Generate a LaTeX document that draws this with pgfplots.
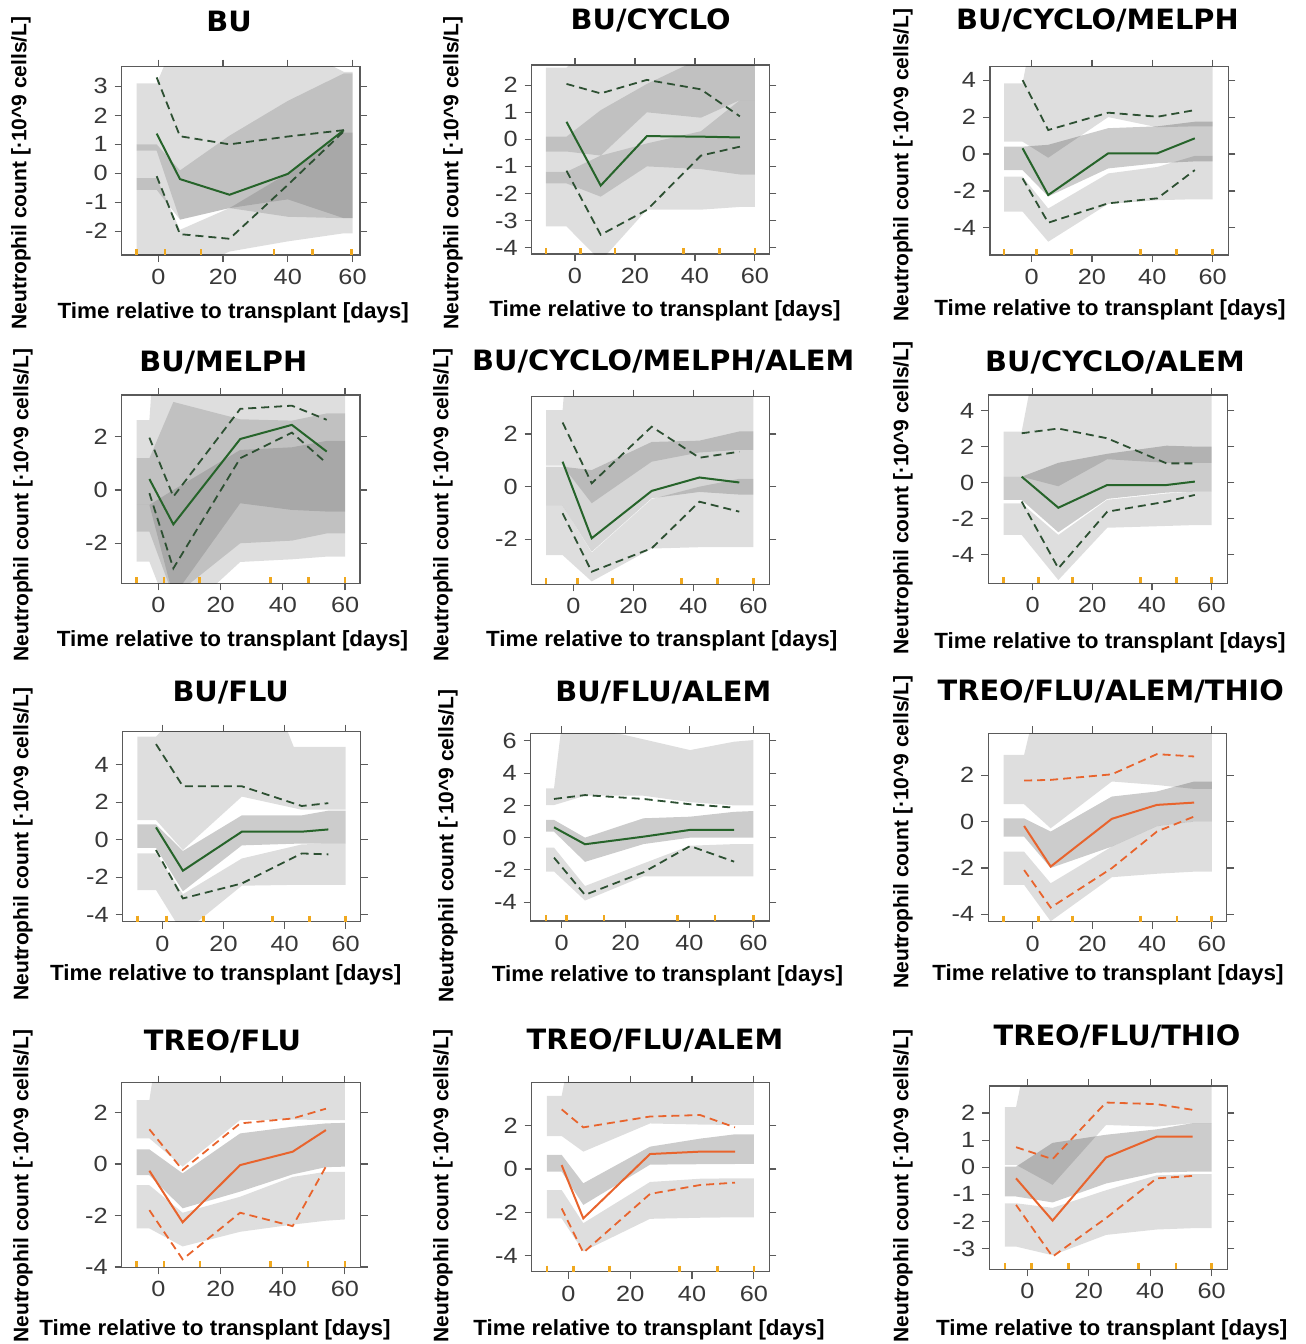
\documentclass[border=0pt]{standalone}
\usepackage{fontspec}
\setmainfont{Liberation Sans}
\newfontfamily\tickfont{Liberation Sans}[FakeStretch=1.15]
\newfontfamily\labfont{Liberation Sans}[FakeStretch=1.02]
\newfontfamily\titfont{DejaVu Sans}[FakeStretch=1.03]
\usepackage{pgfplots}
\pgfplotsset{compat=1.18}
\definecolor{obsgreen}{RGB}{38,100,42}
\definecolor{dashgreen}{RGB}{45,80,50}
\definecolor{obsorange}{RGB}{232,100,45}
\definecolor{rugc}{RGB}{240,168,30}
\definecolor{framec}{RGB}{90,90,90}
\pgfplotsset{
  vpc/.style={scale only axis, anchor=south west, clip=true,
    axis line style={draw=framec, line width=0.6pt},
    every tick/.style={draw=framec, line width=0.6pt},
    tick align=outside, major tick length=3.5pt,
    xtick pos=both, ytick pos=both, xticklabel pos=left, yticklabel pos=left,
    xtick={0,20,40,60},
    /pgf/number format/assume math mode=true,
    tick label style={font=\tickfont\fontsize{11}{11}\selectfont, text=black!78},
  },
  band/.style={draw=none, fill=black, fill opacity=0.13},
  mband/.style={draw=none, fill=black, fill opacity=#1},
  mband/.default=0.2,
  obsline/.style={line width=1pt, color=#1},
  pcline/.style={line width=0.9pt, color=#1, dash pattern=on 4pt off 2.5pt},
  rug/.style={only marks, mark=|, mark size=1.5pt, mark options={draw=rugc, line width=1.3pt, yshift=1.5pt}},
}
\newcommand{\ttl}[2]{\node[font={\titfont\bfseries\fontsize{14}{16}\selectfont}, anchor=base] at #1 {#2};}
\newcommand{\xlab}[1]{\node[font={\labfont\bfseries\fontsize{11}{13}\selectfont}, anchor=base] at #1 {Time relative to transplant [days]};}
\newcommand{\ylab}[1]{\node[font={\bfseries\fontsize{10.5}{12}\selectfont}, rotate=90, anchor=center] at #1 {Neutrophil count [·10\textasciicircum 9 cells/L]};}
\begin{document}
\begin{tikzpicture}
\useasboundingbox (0,0) rectangle (653pt,-672pt);

% ---------- Panel 1: BU
\begin{axis}[vpc, at={(60.85pt,-127.5pt)}, width=119.15pt, height=94.15pt,
  xmin=-11.3, xmax=62.3, ymin=-2.82, ymax=3.68, ytick={-2,-1,0,1,2,3}]
\addplot[band] coordinates {(-6.7,3.1)(-0.5,3.1)(6.7,5)(22,5)(40,4.5)(57.3,3.5)(60,3.5)(60,-1.55)(57.3,-1.55)(40,-0.9)(22,-1.2)(6.7,-1.6)(-0.5,0.78)(-6.7,0.78)} -- cycle;
\addplot[mband=0.13] coordinates {(-6.7,1.0)(-0.5,1.0)(6.7,0.1)(22,1.3)(40,2.5)(57.3,3.45)(60,3.45)(60,-1.55)(57.3,-1.55)(40,-1.5)(22,-1.2)(6.7,-1.6)(-0.5,-0.57)(-6.7,-0.57)} -- cycle;
\addplot[band] coordinates {(-6.7,-0.17)(-0.5,-0.17)(6.7,-1.95)(22,-1.2)(40,0.0)(57.3,1.4)(60,1.4)(60,-2.07)(57.3,-2.07)(40,-2.35)(22,-2.7)(6.7,-3.5)(-0.5,-3.5)(-6.7,-3.5)} -- cycle;
\addplot[obsline=obsgreen] coordinates {(-0.5,1.37)(6.7,-0.2)(22,-0.74)(40,-0.02)(57.3,1.49)};
\addplot[pcline=dashgreen] coordinates {(-0.5,3.31)(6.7,1.28)(22,1.0)(40,1.27)(57.3,1.49)};
\addplot[pcline=dashgreen] coordinates {(-0.5,-0.1)(6.7,-2.1)(22,-2.26)(40,-0.4)(57.3,1.45)};
\addplot[rug] coordinates {(-6.7,-2.82)(2.1,-2.82)(13.2,-2.82)(35.7,-2.82)(47.6,-2.82)(59.7,-2.82)};
\end{axis}

% ---------- Panel 2: BU/CYCLO
\begin{axis}[vpc, at={(265.85pt,-127pt)}, width=118.8pt, height=94.5pt,
  xmin=-14.4, xmax=64.8, ymin=-4.24, ymax=2.75, ytick={-4,-3,-2,-1,0,1,2}]
\addplot[band] coordinates {(-9.7,2.65)(-2.8,2.65)(8.6,4)(60,4)(60,1.45)(55,1.45)(42,0.8)(24,1.0)(8.6,-0.6)(-2.8,-0.45)(-9.7,-0.45)} -- cycle;
\addplot[mband=0.13] coordinates {(-9.7,0.1)(-2.8,0.1)(8.6,1.08)(24,2.05)(42,3.0)(55,3.0)(60,3.0)(60,-1.3)(55,-1.3)(42,-1.1)(24,-1.0)(8.6,-2.12)(-2.8,-1.63)(-9.7,-1.63)} -- cycle;
\addplot[band] coordinates {(-9.7,-1.2)(-2.8,-1.2)(8.6,-0.6)(24,-0.15)(42,0.3)(55,1.45)(60,1.45)(60,-2.5)(55,-2.5)(42,-2.6)(24,-2.6)(8.6,-4.5)(-2.8,-3.22)(-9.7,-3.22)} -- cycle;
\addplot[obsline=obsgreen] coordinates {(-2.8,0.65)(8.6,-1.71)(24,0.12)(42,0.1)(55,0.07)};
\addplot[pcline=dashgreen] coordinates {(-2.8,2.05)(8.6,1.7)(24,2.2)(42,1.85)(55,0.85)};
\addplot[pcline=dashgreen] coordinates {(-2.8,-1.16)(8.6,-3.53)(24,-2.61)(42,-0.6)(55,-0.27)};
\addplot[rug] coordinates {(-9.7,-4.24)(1.9,-4.24)(13.3,-4.24)(36.1,-4.24)(48.1,-4.24)(60,-4.24)};
\end{axis}

% ---------- Panel 3: BU/CYCLO/MELPH
\begin{axis}[vpc, at={(495pt,-127.5pt)}, width=119.15pt, height=94.15pt,
  xmin=-13.8, xmax=65.2, ymin=-5.47, ymax=4.73, ytick={-4,-2,0,2,4}]
\addplot[band] coordinates {(-9.1,3.83)(-3,3.83)(-0.5,6)(60,6)(60,1.5)(54.1,1.5)(41.7,1.45)(25.4,2.0)(5.5,-0.2)(-3,0.67)(-9.1,0.67)} -- cycle;
\addplot[mband] coordinates {(-9.1,0.4)(-3,0.4)(5.5,0.5)(25.4,1.4)(41.7,1.5)(54.1,1.75)(60,1.75)(60,-0.4)(54.1,-0.4)(41.7,-0.5)(25.4,-0.78)(5.5,-2.3)(-3,-0.87)(-9.1,-0.87)} -- cycle;
\addplot[band] coordinates {(-9.1,-1.23)(-3,-1.23)(5.5,-2.95)(25.4,-1.05)(41.7,-0.7)(54.1,-0.1)(60,-0.1)(60,-2.45)(54.1,-2.45)(41.7,-2.5)(25.4,-2.7)(5.5,-4.75)(-3,-3.12)(-9.1,-3.12)} -- cycle;
\addplot[obsline=obsgreen] coordinates {(-3,0.31)(5.5,-2.22)(25.4,0.04)(41.7,0.04)(54.1,0.85)};
\addplot[pcline=dashgreen] coordinates {(-3,4.0)(5.5,1.3)(25.4,2.24)(41.7,2.02)(54.1,2.38)};
\addplot[pcline=dashgreen] coordinates {(-3,-1.32)(5.5,-3.72)(25.4,-2.67)(41.7,-2.4)(54.1,-0.87)};
\addplot[rug] coordinates {(-9.1,-5.47)(1.7,-5.47)(13.3,-5.47)(36.1,-5.47)(48.1,-5.47)(60,-5.47)};
\end{axis}

% ---------- Panel 4: BU/MELPH
\begin{axis}[vpc, at={(60.85pt,-291.65pt)}, width=119.15pt, height=94.15pt,
  xmin=-11.8, xmax=64.8, ymin=-3.5, ymax=3.56, ytick={-2,0,2}]
\addplot[band] coordinates {(-7,2.62)(-2.9,2.62)(-1.5,5)(60,5)(60,-0.81)(54.1,-0.81)(42.9,-0.75)(26.3,-0.5)(4.8,-4)(-2.9,-0.56)(-7,-0.56)} -- cycle;
\addplot[mband=0.13] coordinates {(-7,1.19)(-2.9,1.19)(4.8,3.3)(26.3,2.65)(42.9,2.6)(54.1,2.87)(60,2.87)(60,-1.63)(54.1,-1.63)(42.9,-1.9)(26.3,-2.0)(4.8,-4)(-2.9,-1.56)(-7,-1.56)} -- cycle;
\addplot[band] coordinates {(-7,-0.56)(-2.9,-0.56)(4.8,0.0)(26.3,1.5)(42.9,1.6)(54.1,1.84)(60,1.84)(60,-2.5)(54.1,-2.5)(42.9,-2.6)(26.3,-2.7)(4.8,-5)(-2.9,-2.69)(-7,-2.69)} -- cycle;
\addplot[obsline=obsgreen] coordinates {(-2.9,0.41)(4.8,-1.29)(26.3,1.91)(42.9,2.44)(54.1,1.44)};
\addplot[pcline=dashgreen] coordinates {(-2.9,1.96)(4.8,-0.25)(26.3,3.04)(42.9,3.16)(54.1,2.63)};
\addplot[pcline=dashgreen] coordinates {(-2.9,-0.12)(4.8,-2.94)(26.3,1.19)(42.9,2.15)(54.1,1.0)};
\addplot[rug] coordinates {(-7,-3.5)(1.8,-3.5)(13.2,-3.5)(36.1,-3.5)(48.2,-3.5)(60,-3.5)};
\end{axis}

% ---------- Panel 5: BU/CYCLO/MELPH/ALEM
\begin{axis}[vpc, at={(265.85pt,-292.15pt)}, width=118.8pt, height=93.8pt,
  xmin=-13.9, xmax=65.3, ymin=-3.71, ymax=3.42, ytick={-2,0,2}]
\addplot[band] coordinates {(-9.1,2.91)(-3.6,2.91)(-2.5,4.5)(60,4.5)(60,1.4)(55.3,1.4)(42,1.3)(26.1,0.95)(6.1,-0.63)(-3.6,0.8)(-9.1,0.8)} -- cycle;
\addplot[mband=0.16] coordinates {(-9.1,0.76)(-3.6,0.76)(6.1,0.63)(26.1,1.7)(42,1.75)(55.3,2.1)(60,2.1)(60,-0.3)(55.3,-0.3)(42,-0.2)(26.1,-0.44)(6.1,-2.47)(-3.6,-0.72)(-9.1,-0.72)} -- cycle;
\addplot[band] coordinates {(-9.1,-0.72)(-3.6,-0.72)(6.1,-2.5)(26.1,-0.47)(42,0.0)(55.3,0.3)(60,0.3)(60,-2.3)(55.3,-2.3)(42,-2.3)(26.1,-2.35)(6.1,-3.6)(-3.6,-2.6)(-9.1,-2.6)} -- cycle;
\addplot[obsline=obsgreen] coordinates {(-3.6,0.95)(6.1,-1.96)(26.1,-0.16)(42,0.35)(55.3,0.16)};
\addplot[pcline=dashgreen] coordinates {(-3.6,2.44)(6.1,0.13)(26.1,2.28)(42,1.1)(55.3,1.33)};
\addplot[pcline=dashgreen] coordinates {(-3.6,-1.01)(6.1,-3.23)(26.1,-2.34)(42,-0.57)(55.3,-0.95)};
\addplot[rug] coordinates {(-9.1,-3.71)(1.4,-3.71)(13.1,-3.71)(36.1,-3.71)(48,-3.71)(60,-3.71)};
\end{axis}

% ---------- Panel 6: BU/CYCLO/ALEM
\begin{axis}[vpc, at={(494.15pt,-291.65pt)}, width=119.5pt, height=94.15pt,
  xmin=-14.9, xmax=65.3, ymin=-5.58, ymax=4.86, ytick={-4,-2,0,2,4}]
\addplot[band] coordinates {(-9.8,2.83)(-3.7,2.83)(0,6)(60,6)(60,1.1)(54.4,1.1)(44.9,1.1)(25,1.3)(8.6,-0.2)(-3.7,0.33)(-9.8,0.33)} -- cycle;
\addplot[mband] coordinates {(-9.8,0.33)(-3.7,0.33)(8.6,1.1)(25,1.6)(44.9,2.05)(54.4,2.0)(60,2.0)(60,-0.5)(54.4,-0.5)(44.9,-0.55)(25,-0.9)(8.6,-2.75)(-3.7,-0.96)(-9.8,-0.96)} -- cycle;
\addplot[band] coordinates {(-9.8,-1.15)(-3.7,-1.15)(8.6,-2.9)(25,-0.95)(44.9,-0.6)(54.4,-0.5)(60,-0.5)(60,-2.35)(54.4,-2.35)(44.9,-2.4)(25,-2.5)(8.6,-5.4)(-3.7,-2.9)(-9.8,-2.9)} -- cycle;
\addplot[obsline=obsgreen] coordinates {(-3.7,0.33)(8.6,-1.39)(25,-0.13)(44.9,-0.13)(54.4,0.06)};
\addplot[pcline=dashgreen] coordinates {(-3.7,2.74)(8.6,3.0)(25,2.46)(44.9,1.07)(54.4,1.07)};
\addplot[pcline=dashgreen] coordinates {(-3.7,-1.05)(8.6,-4.75)(25,-1.61)(44.9,-1.05)(54.4,-0.68)};
\addplot[rug] coordinates {(-9.8,-5.58)(1.9,-5.58)(13.4,-5.58)(36.2,-5.58)(48.3,-5.58)(60,-5.58)};
\end{axis}

% ---------- Panel 7: BU/FLU
\begin{axis}[vpc, at={(61.35pt,-460.85pt)}, width=119pt, height=95pt,
  xmin=-13, xmax=64.9, ymin=-4.37, ymax=5.76, ytick={-4,-2,0,2,4}]
\addplot[band] coordinates {(-8.2,5.5)(-2.1,5.5)(6.7,7)(38,7)(43,4.95)(60,4.95)(60,1.6)(54.3,1.6)(45.6,1.6)(26,2.3)(6.7,-0.55)(-2.1,1.05)(-8.2,1.05)} -- cycle;
\addplot[mband] coordinates {(-8.2,0.82)(-2.1,0.82)(6.7,-0.6)(26,1.3)(45.6,1.3)(54.3,1.55)(60,1.55)(60,-0.2)(54.3,-0.2)(45.6,-0.2)(26,-0.3)(6.7,-2.75)(-2.1,-0.43)(-8.2,-0.43)} -- cycle;
\addplot[band] coordinates {(-8.2,-0.73)(-2.1,-0.73)(6.7,-2.9)(26,-1.0)(45.6,-0.25)(54.3,-0.2)(60,-0.2)(60,-2.4)(54.3,-2.4)(45.6,-2.4)(26,-2.45)(6.7,-5)(-2.1,-2.68)(-8.2,-2.68)} -- cycle;
\addplot[obsline=obsgreen] coordinates {(-2.1,0.66)(6.7,-1.65)(26,0.43)(45.6,0.43)(54.3,0.55)};
\addplot[pcline=dashgreen] coordinates {(-2.1,5.1)(6.7,2.85)(26,2.85)(45.6,1.8)(54.3,1.95)};
\addplot[pcline=dashgreen] coordinates {(-2.1,-0.55)(6.7,-3.13)(26,-2.33)(45.6,-0.73)(54.3,-0.78)};
\addplot[rug] coordinates {(-8.2,-4.37)(1.4,-4.37)(13.4,-4.37)(36.1,-4.37)(48.1,-4.37)(60,-4.37)};
\end{axis}

% ---------- Panel 8: BU/FLU/ALEM
\begin{axis}[vpc, at={(265.35pt,-460.5pt)}, width=119.3pt, height=93.85pt,
  xmin=-9.7, xmax=65, ymin=-5.17, ymax=6.47, ytick={-4,-2,0,2,4,6}]
\addplot[band] coordinates {(-4.9,3.06)(-2.4,3.06)(0,7)(19,6.4)(40.2,5.43)(54,5.95)(60,6.05)(60,2.0)(54,2.0)(40.2,2.2)(25.6,2.6)(7.3,2.6)(-2.4,2.02)(-4.9,2.02)} -- cycle;
\addplot[mband] coordinates {(-4.9,1.1)(-2.4,1.1)(7.3,0.0)(25.6,1.2)(40.2,1.3)(54,1.6)(60,1.65)(60,0.0)(54,0.0)(40.2,0.0)(25.6,-0.4)(7.3,-1.5)(-2.4,0.37)(-4.9,0.37)} -- cycle;
\addplot[band] coordinates {(-4.9,-0.62)(-2.4,-0.62)(7.3,-3.0)(25.6,-1.6)(40.2,-0.5)(54,-0.4)(60,-0.4)(60,-2.4)(54,-2.4)(40.2,-2.4)(25.6,-2.4)(7.3,-3.9)(-2.4,-2.1)(-4.9,-2.1)} -- cycle;
\addplot[obsline=obsgreen] coordinates {(-2.4,0.64)(7.3,-0.41)(25.6,0.06)(40.2,0.48)(54,0.48)};
\addplot[pcline=dashgreen] coordinates {(-2.4,2.4)(7.3,2.64)(25.6,2.4)(40.2,2.07)(54,1.86)};
\addplot[pcline=dashgreen] coordinates {(-2.4,-1.24)(7.3,-3.55)(25.6,-2.15)(40.2,-0.52)(54,-1.49)};
\addplot[rug] coordinates {(-4.9,-5.17)(1.6,-5.17)(13.3,-5.17)(36.2,-5.17)(48,-5.17)(60,-5.17)};
\end{axis}

% ---------- Panel 9: TREO/FLU/ALEM/THIO
\begin{axis}[vpc, at={(494.15pt,-460.85pt)}, width=119.2pt, height=94.2pt,
  xmin=-14.9, xmax=65, ymin=-4.32, ymax=3.81, ytick={-4,-2,0,2}]
\addplot[band] coordinates {(-9.8,2.88)(-2.9,2.88)(1,5)(60,5)(60,1.41)(54.1,1.41)(41.6,1.58)(26.5,1.73)(6,-0.29)(-2.9,0.75)(-9.8,0.75)} -- cycle;
\addplot[mband] coordinates {(-9.8,0.14)(-2.9,0.14)(6,-0.43)(26.5,1.08)(41.6,1.3)(54.1,1.73)(60,1.73)(60,0.0)(54.1,0.0)(41.6,-0.2)(26.5,-1.08)(6,-2.0)(-2.9,-0.65)(-9.8,-0.65)} -- cycle;
\addplot[band] coordinates {(-9.8,-1.3)(-2.9,-1.3)(6,-2.66)(26.5,-1.08)(41.6,-0.2)(54.1,0.0)(60,0.0)(60,-2.16)(54.1,-2.16)(41.6,-2.25)(26.5,-2.4)(6,-4.3)(-2.9,-2.73)(-9.8,-2.73)} -- cycle;
\addplot[obsline=obsorange] coordinates {(-2.9,-0.19)(6,-1.94)(26.5,0.12)(41.6,0.72)(54.1,0.82)};
\addplot[pcline=obsorange] coordinates {(-2.9,1.77)(6,1.8)(26.5,2.04)(41.6,2.91)(54.1,2.81)};
\addplot[pcline=obsorange] coordinates {(-2.9,-2.09)(6,-3.71)(26.5,-2.01)(41.6,-0.43)(54.1,0.22)};
\addplot[rug] coordinates {(-9.8,-4.32)(1.9,-4.32)(13.4,-4.32)(36.2,-4.32)(48.3,-4.32)(60,-4.32)};
\end{axis}

% ---------- Panel 10: TREO/FLU
\begin{axis}[vpc, at={(60.85pt,-633.65pt)}, width=119.5pt, height=92.3pt,
  xmin=-11.8, xmax=65.1, ymin=-4.01, ymax=3.16, ytick={-4,-2,0,2}]
\addplot[band] coordinates {(-7,2.48)(-2.9,2.48)(-1,4)(60,4)(60,1.71)(53.9,1.71)(43.2,1.73)(26.3,1.71)(7.8,-0.1)(-2.9,1.0)(-7,1.0)} -- cycle;
\addplot[mband] coordinates {(-7,0.57)(-2.9,0.57)(7.8,-0.36)(26.3,1.19)(43.2,1.45)(53.9,1.58)(60,1.6)(60,-0.1)(53.9,-0.12)(43.2,-0.4)(26.3,-1.07)(7.8,-1.72)(-2.9,-0.43)(-7,-0.43)} -- cycle;
\addplot[band] coordinates {(-7,-0.82)(-2.9,-0.82)(7.8,-1.89)(26.3,-1.27)(43.2,-0.5)(53.9,-0.3)(60,-0.3)(60,-2.15)(53.9,-2.2)(43.2,-2.35)(26.3,-2.63)(7.8,-3.2)(-2.9,-2.5)(-7,-2.5)} -- cycle;
\addplot[obsline=obsorange] coordinates {(-2.9,-0.26)(7.8,-2.26)(26.3,-0.04)(43.2,0.48)(53.9,1.32)};
\addplot[pcline=obsorange] coordinates {(-2.9,1.35)(7.8,-0.23)(26.3,1.58)(43.2,1.77)(53.9,2.15)};
\addplot[pcline=obsorange] coordinates {(-2.9,-1.79)(7.8,-3.7)(26.3,-1.89)(43.2,-2.41)(53.9,-0.1)};
\addplot[rug] coordinates {(-7,-4.01)(1.8,-4.01)(13.4,-4.01)(36.1,-4.01)(48.2,-4.01)(60,-4.01)};
\end{axis}

% ---------- Panel 11: TREO/FLU/ALEM
\begin{axis}[vpc, at={(265.85pt,-635.85pt)}, width=118.8pt, height=94.5pt,
  xmin=-11.9, xmax=65, ymin=-4.74, ymax=3.98, ytick={-4,-2,0,2}]
\addplot[band] coordinates {(-7,3.37)(-2.2,3.37)(0,5)(60,5)(60,2.03)(53.9,2.03)(42.6,2.05)(26.4,2.1)(4.8,0.8)(-2.2,1.52)(-7,1.52)} -- cycle;
\addplot[mband] coordinates {(-7,0.65)(-2.2,0.65)(4.8,-0.66)(26.4,1.03)(42.6,1.4)(53.9,1.6)(60,1.6)(60,0.23)(53.9,0.23)(42.6,0.22)(26.4,0.2)(4.8,-1.66)(-2.2,-0.12)(-7,-0.12)} -- cycle;
\addplot[band] coordinates {(-7,-0.97)(-2.2,-0.97)(4.8,-2.5)(26.4,-0.6)(42.6,-0.45)(53.9,-0.43)(60,-0.43)(60,-2.23)(53.9,-2.23)(42.6,-2.25)(26.4,-2.3)(4.8,-3.8)(-2.2,-2.28)(-7,-2.28)} -- cycle;
\addplot[obsline=obsorange] coordinates {(-2.2,0.18)(4.8,-2.28)(26.4,0.69)(42.6,0.8)(53.9,0.8)};
\addplot[pcline=obsorange] coordinates {(-2.2,2.75)(4.8,1.92)(26.4,2.42)(42.6,2.49)(53.9,1.92)};
\addplot[pcline=obsorange] coordinates {(-2.2,-1.82)(4.8,-3.86)(26.4,-1.15)(42.6,-0.74)(53.9,-0.63)};
\addplot[rug] coordinates {(-7,-4.74)(1.6,-4.74)(13.3,-4.74)(35.9,-4.74)(48.2,-4.74)(60,-4.74)};
\end{axis}

% ---------- Panel 12: TREO/FLU/THIO
\begin{axis}[vpc, at={(494.65pt,-634.65pt)}, width=119pt, height=91.65pt,
  xmin=-12.4, xmax=65.1, ymin=-3.77, ymax=3.0, ytick={-3,-2,-1,0,1,2}]
\addplot[band] coordinates {(-7.3,2.22)(-3.7,2.22)(-0.5,4)(60,4)(60,1.63)(53.8,1.63)(42.1,1.5)(25.6,1.56)(8.2,-0.65)(-3.7,0.09)(-7.3,0.09)} -- cycle;
\addplot[mband] coordinates {(-7.3,0.02)(-3.7,0.02)(8.2,0.9)(25.6,1.2)(42.1,1.4)(53.8,1.63)(60,1.63)(60,-0.16)(53.8,-0.16)(42.1,-0.2)(25.6,-0.6)(8.2,-1.3)(-3.7,-1.08)(-7.3,-1.08)} -- cycle;
\addplot[band] coordinates {(-7.3,-1.33)(-3.7,-1.33)(8.2,-1.5)(25.6,-0.85)(42.1,-0.3)(53.8,-0.25)(60,-0.25)(60,-2.25)(53.8,-2.25)(42.1,-2.3)(25.6,-2.5)(8.2,-3.25)(-3.7,-2.93)(-7.3,-2.93)} -- cycle;
\addplot[obsline=obsorange] coordinates {(-3.7,-0.41)(8.2,-1.97)(25.6,0.36)(42.1,1.13)(53.8,1.13)};
\addplot[pcline=obsorange] coordinates {(-3.7,0.74)(8.2,0.3)(25.6,2.39)(42.1,2.33)(53.8,2.12)};
\addplot[pcline=obsorange] coordinates {(-3.7,-1.39)(8.2,-3.3)(25.6,-1.88)(42.1,-0.41)(53.8,-0.32)};
\addplot[rug] coordinates {(-7.3,-3.77)(1.4,-3.77)(13.3,-3.77)(36.1,-3.77)(48.4,-3.77)(60,-3.77)};
\end{axis}

% ---------- titles
\ttl{(114.5pt,-15.85pt)}{BU}
\ttl{(325.35pt,-14.65pt)}{BU/CYCLO}
\ttl{(548.75pt,-14.65pt)}{BU/CYCLO/MELPH}
\ttl{(111.65pt,-185.5pt)}{BU/MELPH}
\ttl{(331.65pt,-185pt)}{BU/CYCLO/MELPH/ALEM}
\ttl{(557.5pt,-185.5pt)}{BU/CYCLO/ALEM}
\ttl{(115.35pt,-350.5pt)}{BU/FLU}
\ttl{(331.65pt,-350.5pt)}{BU/FLU/ALEM}
\ttl{(555.4pt,-350pt)}{TREO/FLU/ALEM/THIO}
\ttl{(111.25pt,-525pt)}{TREO/FLU}
\ttl{(327.5pt,-524.65pt)}{TREO/FLU/ALEM}
\ttl{(558.5pt,-522.5pt)}{TREO/FLU/THIO}
% ---------- x labels
\xlab{(116.65pt,-159.15pt)}
\xlab{(332.5pt,-158pt)}
\xlab{(555pt,-157.5pt)}
\xlab{(116.25pt,-323.35pt)}
\xlab{(330.85pt,-323.35pt)}
\xlab{(555pt,-324pt)}
\xlab{(112.9pt,-490pt)}
\xlab{(333.75pt,-490.85pt)}
\xlab{(554pt,-490pt)}
\xlab{(107.5pt,-667.5pt)}
\xlab{(324.5pt,-667.5pt)}
\xlab{(555.85pt,-667.5pt)}
% ---------- y labels
\ylab{(10.5pt,-86.5pt)}
\ylab{(226.5pt,-86.5pt)}
\ylab{(451.5pt,-82.5pt)}
\ylab{(11.5pt,-252.5pt)}
\ylab{(221.5pt,-252.5pt)}
\ylab{(451.5pt,-249pt)}
\ylab{(11.5pt,-422pt)}
\ylab{(224pt,-423pt)}
\ylab{(451.5pt,-416pt)}
\ylab{(11.5pt,-593pt)}
\ylab{(221.5pt,-593pt)}
\ylab{(451.5pt,-593pt)}
\end{tikzpicture}
\end{document}
